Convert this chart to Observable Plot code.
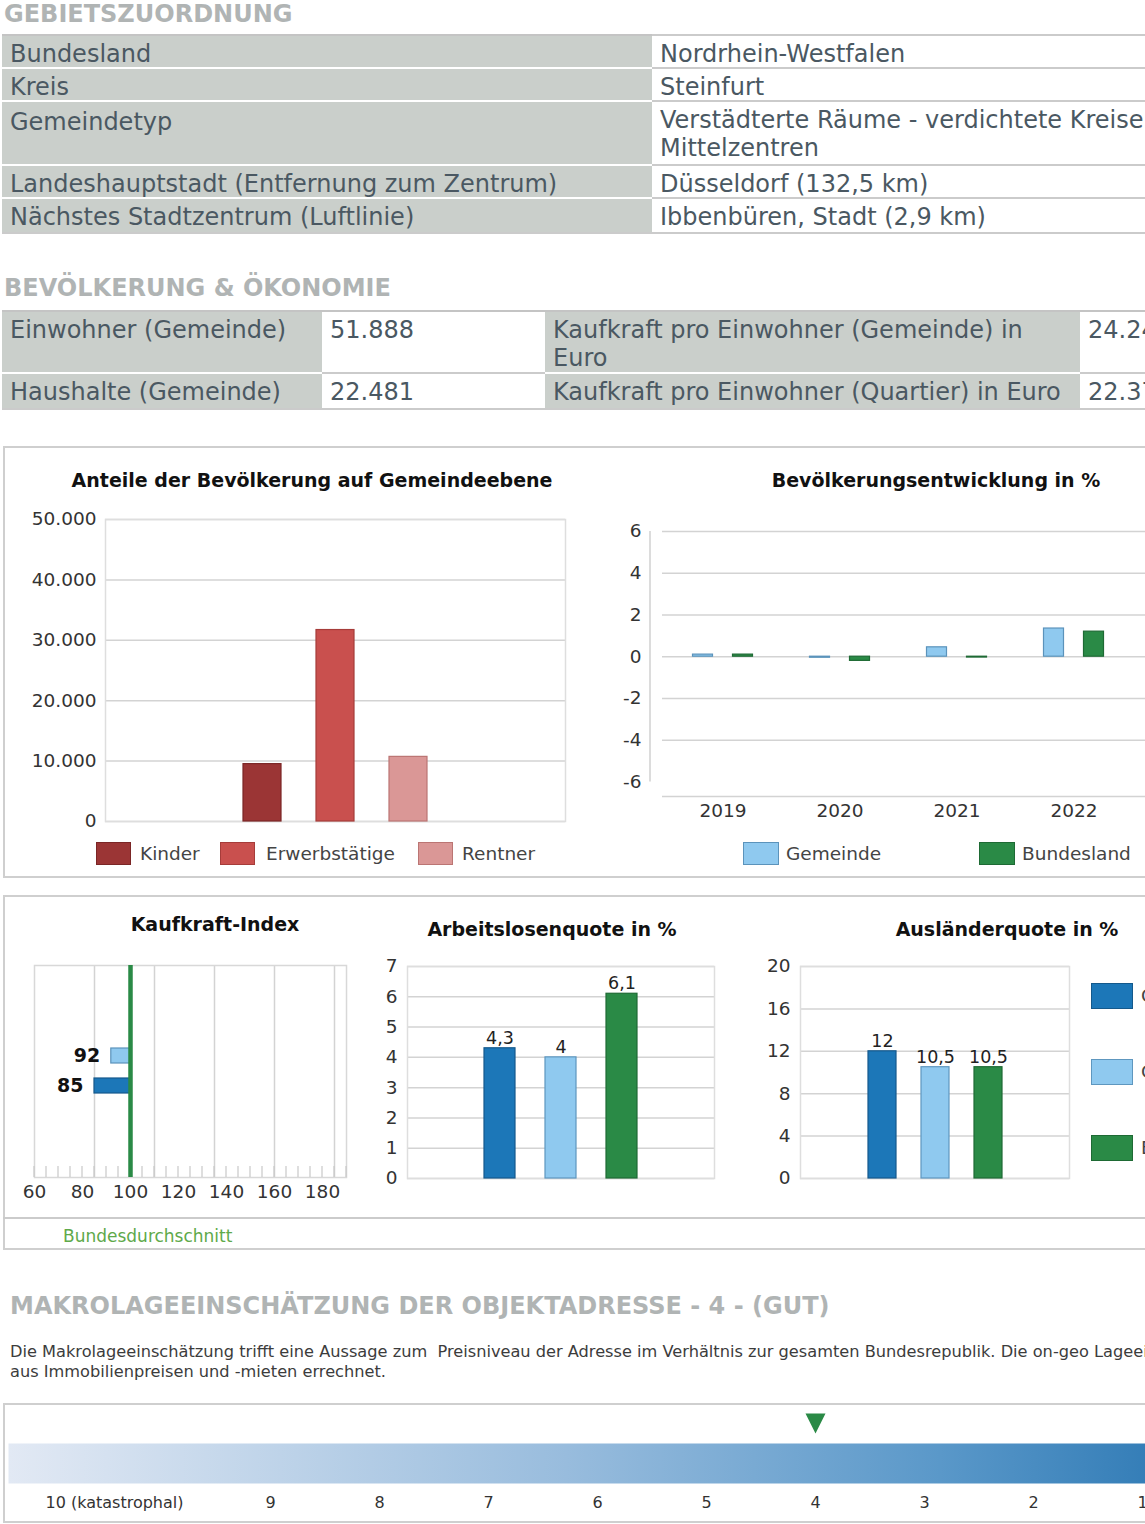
<!DOCTYPE html>
<html lang="de">
<head>
<meta charset="utf-8">
<title>Standortprofil</title>
<script src="https://cdn.jsdelivr.net/npm/d3@7"></script>
<script src="https://cdn.jsdelivr.net/npm/@observablehq/plot@0.6"></script>
<style>
html, body { margin: 0; padding: 0; background: #fff; overflow: hidden; }
#page { position: relative; width: 1145px; height: 1524px; overflow: hidden;
        font-family: "DejaVu Sans", Verdana, sans-serif; color: #333; }
.abs { position: absolute; white-space: pre; }
.head { font-weight: bold; font-size: 24px; line-height: 24px; color: #b0b4b4; }
.cell { position: absolute; box-sizing: border-box; padding: 4px 0 0 8px; font-size: 24px;
        line-height: 28px; color: #4a5862; white-space: pre; border-top: 2px solid; }
.lab { background: #cacfcb; border-top-color: #fff; }
.val { background: #fff; border-top-color: #cbcbcb; }
.line { position: absolute; height: 2px; background: #cbcbcb; }
.box { position: absolute; box-sizing: border-box; border: 2px solid #cfcfcf; }
.ctitle { position: absolute; font-weight: bold; font-size: 19px; line-height: 22px; color: #111;
          white-space: nowrap; transform: translateX(-50%); }
.plot { position: absolute; }
.plot svg { max-width: none !important; overflow: visible; }
.sw { position: absolute; box-sizing: border-box; border: 1.5px solid; }
.lt { position: absolute; font-size: 18.5px; line-height: 22px; color: #444; white-space: nowrap; }
</style>
</head>
<body>
<div id="page"></div>
<script>
// ---------- data ----------
const gebietLabels = ["Bundesland", "Kreis", "Gemeindetyp",
  "Landeshauptstadt (Entfernung zum Zentrum)", "Nächstes Stadtzentrum (Luftlinie)"];
const gebietValues = ["Nordrhein-Westfalen", "Steinfurt",
  "Verstädterte Räume - verdichtete Kreise -\nMittelzentren",
  "Düsseldorf (132,5 km)", "Ibbenbüren, Stadt (2,9 km)"];

const oekoLabels = ["Einwohner (Gemeinde)", "Haushalte (Gemeinde)"];
const oekoValues = ["51.888", "22.481"];
const kaufLabels = ["Kaufkraft pro Einwohner (Gemeinde) in\nEuro", "Kaufkraft pro Einwohner (Quartier) in Euro"];
const kaufValues = ["24.248", "22.379"];

// Anteile der Bevölkerung auf Gemeindeebene
const popGroups = ["Kinder", "Erwerbstätige", "Rentner"];
const popCounts = [9500, 31700, 10700];
const popFill = ["#9b3535", "#c9504e", "#da9796"];
const popStroke = ["#7b2626", "#a63c3a", "#bb7573"];
const popTicks = [0, 10000, 20000, 30000, 40000, 50000];

// Bevölkerungsentwicklung in %
const devYears = ["2019", "2020", "2021", "2022"];
const devGemeinde = [0.1, -0.05, 0.45, 1.35];
const devBundesland = [0.1, -0.2, -0.04, 1.2];
const devTicks = [6, 4, 2, 0, -2, -4, -6];
const devGrid = [6, 4, 2, 0, -2, -4];

// Kaufkraft-Index
const kkGroups = ["Gemeinde", "Quartier"];
const kkIndex = [92, 85];
const kkAverage = 100;
const kkTicks = [60, 80, 100, 120, 140, 160, 180];
const kkGrid = [85, 110, 135, 160, 185];

// Arbeitslosen- und Ausländerquote
const quoteGroups = ["Quartier", "Gemeinde", "Bundesland"];
const quoteFill = ["#1c77b8", "#8fc9ef", "#2a8a46"];
const quoteStroke = ["#14598c", "#5e97bf", "#1e6a34"];
const alqValues = [4.3, 4, 6.1];
const alqTicks = [0, 1, 2, 3, 4, 5, 6, 7];
const auslValues = [12, 10.5, 10.5];
const auslTicks = [0, 4, 8, 12, 16, 20];

// Makrolage
const makroLevels = [10, 9, 8, 7, 6, 5, 4, 3, 2, 1];
const makroLabels = ["10 (katastrophal)", "9", "8", "7", "6", "5", "4", "3", "2", "1"];
const makroValue = 4;

// ---------- helpers ----------
const page = document.getElementById("page");
const FONT = '"DejaVu Sans", Verdana, sans-serif';
const deNum = d => d3.format(",")(d).replace(/,/g, ".");
const deDec = d => String(d).replace(".", ",");
const plotStyle = size => ({fontFamily: FONT, fontSize: size + "px", color: "#333",
  background: "transparent", overflow: "visible"});

function div(cls, css, text) {
  const d = document.createElement("div");
  if (cls) d.className = cls;
  Object.assign(d.style, css);
  if (text != null) d.textContent = text;
  page.appendChild(d);
  return d;
}
function place(svg, left, top) {
  const d = div("plot", {left: left + "px", top: top + "px"});
  d.appendChild(svg);
}
function legend(items) {
  for (const it of items) {
    div("sw", {left: it.x + "px", top: it.y + "px", width: it.w + "px", height: it.h + "px",
      background: it.fill, borderColor: it.stroke});
    div("lt", {left: it.tx + "px", top: (it.y + it.h / 2 - 11) + "px"}, it.text);
  }
}
function title(text, cx, cy) {
  div("ctitle", {left: cx + "px", top: (cy - 11) + "px"}, text);
}

// ---------- Gebietszuordnung ----------
div("abs head", {left: "4px", top: "2px"}, "GEBIETSZUORDNUNG");
const gRows = [34, 67, 100, 164, 197, 232];
gebietLabels.forEach((lab, i) => {
  const h = gRows[i + 1] - gRows[i];
  div("cell lab", {left: "2px", top: gRows[i] + "px", width: "650px", height: h + "px",
    borderTopColor: i === 0 ? "#c4c4c4" : "#fff", paddingTop: i === 2 ? "6px" : "4px"}, lab);
  div("cell val", {left: "652px", top: gRows[i] + "px", width: "700px", height: h + "px"}, gebietValues[i]);
});
div("line", {left: "2px", top: "232px", width: "1400px"});

// ---------- Bevölkerung & Ökonomie ----------
div("abs head", {left: "4px", top: "276px"}, "BEVÖLKERUNG & ÖKONOMIE");
const oRows = [310, 372, 408];
const oCols = [2, 322, 545, 1080, 1480];
oekoLabels.forEach((lab, i) => {
  const h = oRows[i + 1] - oRows[i];
  const texts = [lab, oekoValues[i], kaufLabels[i], kaufValues[i]];
  texts.forEach((t, j) => {
    div("cell " + (j % 2 === 0 ? "lab" : "val"), {left: oCols[j] + "px", top: oRows[i] + "px",
      width: (oCols[j + 1] - oCols[j]) + "px", height: h + "px",
      borderTopColor: i === 0 ? "#c4c4c4" : (j % 2 === 0 ? "#fff" : "#cbcbcb")}, t);
  });
});
div("line", {left: "2px", top: "408px", width: "1400px"});

// ---------- panel frames ----------
div("box", {left: "3px", top: "446px", width: "1400px", height: "432px"});
div("box", {left: "3px", top: "895px", width: "1400px", height: "355px"});
div("line", {left: "3px", top: "1217px", width: "1400px"});
div("box", {left: "3px", top: "1403px", width: "1400px", height: "120px"});

// ---------- Anteile der Bevölkerung ----------
title("Anteile der Bevölkerung auf Gemeindeebene", 312, 480);
const popData = popGroups.map((g, i) => ({group: g, count: popCounts[i], fill: popFill[i], stroke: popStroke[i]}));
place(Plot.plot({
  width: 600, height: 330, marginLeft: 105, marginRight: 35, marginTop: 19, marginBottom: 9,
  style: plotStyle(18.5),
  x: {type: "band", domain: popGroups, range: [224.25, 444.75], paddingInner: 0.48, paddingOuter: 0.24, axis: null},
  y: {domain: [0, 50000], ticks: popTicks, tickSize: 0, tickPadding: 9, tickFormat: deNum, label: null},
  color: {type: "identity"},
  marks: [
    Plot.ruleY(popTicks, {stroke: "#d3d3d3", strokeWidth: 1.5}),
    Plot.frame({stroke: "#dedede", strokeWidth: 1.5}),
    Plot.barY(popData, {x: "group", y: "count", fill: "fill", stroke: "stroke", strokeWidth: 1.2})
  ]
}), 0, 500);
legend(popGroups.map((g, i) => ({x: [96, 220, 418][i], y: 842, w: 35, h: 23,
  fill: popFill[i], stroke: popStroke[i], tx: [140, 266, 462][i], text: g})));

// ---------- Bevölkerungsentwicklung ----------
title("Bevölkerungsentwicklung in %", 936, 480);
const devG = devYears.map((y, i) => ({year: y, value: devGemeinde[i]}));
const devB = devYears.map((y, i) => ({year: y, value: devBundesland[i]}));
const devAxisLine = (index, scales, values, dims) =>
  d3.create("svg:line")
    .attr("x1", dims.marginLeft - 12).attr("x2", dims.marginLeft - 12)
    .attr("y1", scales.y(d3.max(devTicks))).attr("y2", scales.y(d3.min(devTicks)))
    .attr("stroke", "#d0d0d0").attr("stroke-width", 1.5).node();
place(Plot.plot({
  width: 650, height: 330, marginLeft: 62, marginRight: 0, marginTop: 31, marginBottom: 34,
  style: plotStyle(18.5),
  x: {type: "band", domain: devYears, range: [63.5, 531.5], padding: 0, tickSize: 0, tickPadding: 7, label: null},
  y: {domain: [-6.7, 6], ticks: devTicks, tickSize: 0, tickPadding: 21, tickFormat: d => String(d), label: null},
  marks: [
    Plot.ruleY(devGrid, {stroke: "#d3d3d3", strokeWidth: 1.5}),
    Plot.ruleY([-6.7], {stroke: "#d3d3d3", strokeWidth: 1.5}),
    devAxisLine,
    Plot.barY(devG, {x: "year", y: "value", fill: "#8fc9ef", stroke: "#5b93bb", strokeWidth: 1.2,
      insetLeft: 28.5, insetRight: 68.5}),
    Plot.barY(devB, {x: "year", y: "value", fill: "#2a8a46", stroke: "#1e6a34", strokeWidth: 1.2,
      insetLeft: 68.5, insetRight: 28.5})
  ]
}), 600, 500);
legend([
  {x: 743, y: 842, w: 36, h: 23, fill: "#8fc9ef", stroke: "#5b93bb", tx: 786, text: "Gemeinde"},
  {x: 979, y: 842, w: 36, h: 23, fill: "#2a8a46", stroke: "#1e6a34", tx: 1022, text: "Bundesland"}
]);

// ---------- Kaufkraft-Index ----------
title("Kaufkraft-Index", 215, 924);
const kkData = kkGroups.map((g, i) => ({group: g, index: kkIndex[i],
  fill: g === "Gemeinde" ? "#8fc9ef" : "#1c77b8", stroke: g === "Gemeinde" ? "#5b93bb" : "#14598c"}));
const kkMinor = d3.range(60, 191, 5);
const kkMinorTicks = (index, scales, values, dims) => {
  const g = d3.create("svg:g").attr("stroke", "#c8c8c8").attr("stroke-width", 1.2);
  const yb = dims.height - dims.marginBottom;
  for (const v of kkMinor) g.append("line").attr("x1", scales.x(v)).attr("x2", scales.x(v))
    .attr("y1", yb).attr("y2", yb - 11);
  return g.node();
};
place(Plot.plot({
  width: 380, height: 250, marginLeft: 34, marginRight: 34, marginTop: 15, marginBottom: 23,
  style: plotStyle(18.5),
  x: {domain: [60, 190], ticks: kkTicks, tickSize: 0, tickPadding: 7, label: null},
  y: {type: "band", domain: kkGroups, range: [90.25, 151.25], paddingInner: 0.5, paddingOuter: 0.25, axis: null},
  color: {type: "identity"},
  marks: [
    Plot.ruleX(kkGrid, {stroke: "#d3d3d3", strokeWidth: 1.5}),
    Plot.frame({stroke: "#d8d8d8", strokeWidth: 1.5}),
    kkMinorTicks,
    Plot.barX(kkData, {y: "group", x1: kkAverage, x2: "index", fill: "fill", stroke: "stroke", strokeWidth: 1.2}),
    Plot.ruleX([kkAverage], {stroke: "#2a8a46", strokeWidth: 4.5}),
    Plot.text(kkData, {y: "group", x: "index", text: d => String(d.index), textAnchor: "end", dx: -11,
      fontWeight: "bold", fontSize: 19, fill: "#111"})
  ]
}), 0, 950);
div("abs", {left: "63px", top: "1226px", fontSize: "17px", lineHeight: "20px", color: "#5ea94a"}, "Bundesdurchschnitt");

// ---------- Arbeitslosenquote ----------
title("Arbeitslosenquote in %", 552, 929);
const alqData = quoteGroups.map((g, i) => ({group: g, value: alqValues[i], fill: quoteFill[i], stroke: quoteStroke[i]}));
place(Plot.plot({
  width: 350, height: 250, marginLeft: 27, marginRight: 16, marginTop: 16, marginBottom: 22,
  style: plotStyle(18.5),
  x: {type: "band", domain: quoteGroups, paddingInner: 0.5, paddingOuter: 1.226, axis: null},
  y: {domain: [0, 7], ticks: alqTicks, tickSize: 0, tickPadding: 10, tickFormat: d => String(d), label: null},
  color: {type: "identity"},
  marks: [
    Plot.ruleY(alqTicks, {stroke: "#d3d3d3", strokeWidth: 1.5}),
    Plot.frame({stroke: "#dedede", strokeWidth: 1.5}),
    Plot.barY(alqData, {x: "group", y: "value", fill: "fill", stroke: "stroke", strokeWidth: 1.2}),
    Plot.text(alqData, {x: "group", y: "value", text: d => deDec(d.value), dy: -10, fontSize: 17.5, fill: "#222"})
  ]
}), 380, 950);

// ---------- Ausländerquote ----------
title("Ausländerquote in %", 1007, 929);
const auslData = quoteGroups.map((g, i) => ({group: g, value: auslValues[i], fill: quoteFill[i], stroke: quoteStroke[i]}));
place(Plot.plot({
  width: 330, height: 250, marginLeft: 40, marginRight: 21, marginTop: 16, marginBottom: 22,
  style: plotStyle(18.5),
  x: {type: "band", domain: quoteGroups, paddingInner: 0.477, paddingOuter: 1.25, axis: null},
  y: {domain: [0, 20], ticks: auslTicks, tickSize: 0, tickPadding: 10, tickFormat: d => String(d), label: null},
  color: {type: "identity"},
  marks: [
    Plot.ruleY(auslTicks, {stroke: "#d3d3d3", strokeWidth: 1.5}),
    Plot.frame({stroke: "#dedede", strokeWidth: 1.5}),
    Plot.barY(auslData, {x: "group", y: "value", fill: "fill", stroke: "stroke", strokeWidth: 1.2}),
    Plot.text(auslData, {x: "group", y: "value", text: d => deDec(d.value), dy: -10, fontSize: 17.5, fill: "#222"})
  ]
}), 760, 950);
legend(quoteGroups.map((g, i) => ({x: 1091, y: [983, 1059, 1135][i], w: 42, h: 26,
  fill: quoteFill[i], stroke: quoteStroke[i], tx: 1141, text: g})));

// ---------- Makrolageeinschätzung ----------
div("abs head", {left: "10px", top: "1294px"}, "MAKROLAGEEINSCHÄTZUNG DER OBJEKTADRESSE - 4 - (GUT)");
div("abs", {left: "10px", top: "1342px", fontSize: "16.2px", lineHeight: "20px", color: "#3c3c3c"},
  "Die Makrolageeinschätzung trifft eine Aussage zum  Preisniveau der Adresse im Verhältnis zur gesamten Bundesrepublik. Die on-geo Lageeinschätzung wird\naus Immobilienpreisen und -mieten errechnet.");

const makroData = makroLevels.map((v, i) => ({level: v, label: makroLabels[i]}));
const downTriangle = {
  draw(context, size) {
    const r = Math.sqrt(size / Math.PI) * 1.25;
    context.moveTo(-r, -r); context.lineTo(r, -r); context.lineTo(0, r); context.closePath();
  }
};
const makroSvg = Plot.plot({
  width: 1300, height: 119, marginLeft: 8, marginRight: 50, marginTop: 40, marginBottom: 39,
  style: plotStyle(16),
  x: {domain: [10, 1], range: [161, 1142], axis: null},
  marks: [
    Plot.frame({fill: "url(#makroGradient)", stroke: "none"}),
    Plot.text(makroData.filter(d => d.level !== 10), {x: "level", text: "label", frameAnchor: "bottom", dy: 24, fill: "#333"}),
    Plot.text(makroData.filter(d => d.level === 10), {x: "level", text: "label", frameAnchor: "bottom", dy: 24, dx: -47, fill: "#333"}),
    Plot.dot([makroValue], {x: d => d, frameAnchor: "top", dy: -20, symbol: downTriangle, r: 8, fill: "#2a8a46", stroke: "none"})
  ]
});
const grad = d3.select(makroSvg).insert("defs", ":first-child")
  .append("linearGradient").attr("id", "makroGradient").attr("x1", "0%").attr("x2", "100%");
[[0, "#e2e9f4"], [0.45, "#98bcdd"], [0.75, "#5a98c9"], [1, "#2271af"]].forEach(([o, c]) =>
  grad.append("stop").attr("offset", o).attr("stop-color", c));
place(makroSvg, 0, 1403);
</script>
</body>
</html>
